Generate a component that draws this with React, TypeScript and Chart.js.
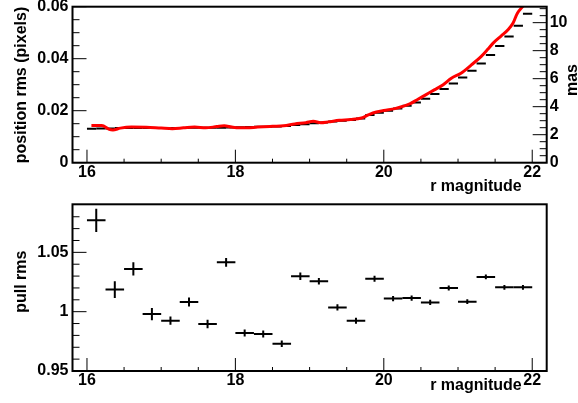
import React, { useEffect, useRef } from "react";
import { Chart, registerables } from "chart.js";

Chart.register(...registerables);

// ---------------- data ----------------
const binCenters = [
  16.0625, 16.1875, 16.3125, 16.4375, 16.5625, 16.6875, 16.8125, 16.9375,
  17.0625, 17.1875, 17.3125, 17.4375, 17.5625, 17.6875, 17.8125, 17.9375,
  18.0625, 18.1875, 18.3125, 18.4375, 18.5625, 18.6875, 18.8125, 18.9375,
  19.0625, 19.1875, 19.3125, 19.4375, 19.5625, 19.6875, 19.8125, 19.9375,
  20.0625, 20.1875, 20.3125, 20.4375, 20.5625, 20.6875, 20.8125, 20.9375,
  21.0625, 21.1875, 21.3125, 21.4375, 21.5625, 21.6875, 21.8125, 21.9375,
];
const rmsPixels = [
  0.0131, 0.0132, 0.0132, 0.0133, 0.0133, 0.0133, 0.0133, 0.0133,
  0.0133, 0.0133, 0.0133, 0.0134, 0.0134, 0.0134, 0.0134, 0.0135,
  0.0136, 0.0137, 0.0138, 0.0138, 0.0139, 0.0141, 0.0145, 0.0148,
  0.0152, 0.0155, 0.0158, 0.0161, 0.0164, 0.017, 0.0183, 0.0192,
  0.02, 0.0208, 0.0219, 0.0232, 0.0246, 0.0264, 0.0283, 0.0305,
  0.0328, 0.0354, 0.0382, 0.0414, 0.0449, 0.0485, 0.0527, 0.0573,
];
const binHalfWidth = 0.0625;

const curveX = [
  16.06, 16.2, 16.3, 16.35, 16.45, 16.6, 16.8, 17.0, 17.15, 17.3, 17.45, 17.6,
  17.75, 17.85, 17.95, 18.05, 18.15, 18.3, 18.5, 18.65, 18.8, 18.95, 19.05,
  19.15, 19.25, 19.4, 19.55, 19.7, 19.8, 19.9, 20.0, 20.15, 20.25, 20.35,
  20.46, 20.57, 20.68, 20.8, 20.91, 21.04, 21.18, 21.31, 21.4, 21.47, 21.58,
  21.67, 21.74, 21.8, 21.87, 21.93,
];
const curveY = [
  0.0143, 0.0143, 0.0128, 0.0126, 0.0133, 0.0137, 0.0136, 0.0133, 0.0131,
  0.0134, 0.0137, 0.0134, 0.0139, 0.0142, 0.0137, 0.0134, 0.0134, 0.0137,
  0.014, 0.0142, 0.0149, 0.0154, 0.0159, 0.0154, 0.0157, 0.0163, 0.0166,
  0.0172, 0.0185, 0.0195, 0.0201, 0.0208, 0.0216, 0.0226, 0.0244, 0.0262,
  0.028, 0.03, 0.0325, 0.0344, 0.0376, 0.0408, 0.0436, 0.0459, 0.0487, 0.051,
  0.0536, 0.0575, 0.06, 0.0625,
];

const pullX = [
  16.125, 16.375, 16.625, 16.875, 17.125, 17.375, 17.625, 17.875,
  18.125, 18.375, 18.625, 18.875, 19.125, 19.375, 19.625, 19.875,
  20.125, 20.375, 20.625, 20.875, 21.125, 21.375, 21.625, 21.875,
];
const pullY = [
  1.077, 1.0186, 1.036, 0.998, 0.9924, 1.0082, 0.9896, 1.0416,
  0.982, 0.9812, 0.973, 1.0298, 1.0256, 1.0036, 0.9924, 1.0278,
  1.011, 1.0115, 1.0078, 1.02, 1.0084, 1.0293, 1.0205, 1.0205,
];
const pullYErr = [
  0.0098, 0.007, 0.0056, 0.0052, 0.0035, 0.0038, 0.0035, 0.0037,
  0.003, 0.003, 0.0028, 0.0032, 0.0028, 0.0026, 0.0025, 0.0025,
  0.0022, 0.0022, 0.0022, 0.0021, 0.002, 0.002, 0.002, 0.002,
];
const pullXErr = 0.125;

const xMajorTicks = [16, 18, 20, 22];
const xMinorTicks = [16.5, 17, 17.5, 18.5, 19, 19.5, 20.5, 21, 21.5];
const yTopMajorTicks = [0, 0.02, 0.04, 0.06];
const yTopMinorTicks = [0.005, 0.01, 0.015, 0.025, 0.03, 0.035, 0.045, 0.05, 0.055];
const masMajorTicks = [0, 2, 4, 6, 8, 10];
const masMinorTicks = [0.5, 1, 1.5, 2.5, 3, 3.5, 4.5, 5, 5.5, 6.5, 7, 7.5, 8.5, 9, 9.5, 10.5, 11];
const pullMajorTicks = [0.95, 1, 1.05];
const pullMinorTicks = [0.96, 0.97, 0.98, 0.99, 1.01, 1.02, 1.03, 1.04, 1.06, 1.07, 1.08];

const xRange = [15.805, 22.195];
const yTopRange = [0, 0.06];
const masRange = [0, 11.14];
const pullRange = [0.95, 1.0905];

const xTitle = "r magnitude";
const yTopTitle = "position rms (pixels)";
const masTitle = "mas";
const pullTitle = "pull rms";

// ---------------- styling helpers ----------------
const FAMILY = '"Liberation Sans", Arial, Helvetica, sans-serif';
const tickFont = { family: FAMILY, size: 16, weight: "bold" as const };

function fixAxis(size: number, horizontal: boolean) {
  return (s: any) => {
    if (horizontal) s.height = size;
    else s.width = size;
    s.paddingTop = 0;
    s.paddingBottom = 0;
    s.paddingLeft = 0;
    s.paddingRight = 0;
  };
}

function setTicks(values: number[]) {
  return (s: any) => {
    s.ticks = values.map((v) => ({ value: v }));
  };
}

function drawFrame(ctx: CanvasRenderingContext2D, a: any) {
  ctx.save();
  ctx.strokeStyle = "#000";
  ctx.lineWidth = 2;
  ctx.strokeRect(a.left, a.top, a.right - a.left, a.bottom - a.top);
  ctx.restore();
}

function drawXTicks(ctx: CanvasRenderingContext2D, xs: any, a: any) {
  ctx.save();
  ctx.strokeStyle = "#000";
  ctx.lineWidth = 1;
  ctx.beginPath();
  xMajorTicks.forEach((v) => {
    const p = xs.getPixelForValue(v);
    ctx.moveTo(p, a.bottom);
    ctx.lineTo(p, a.bottom - 13);
  });
  xMinorTicks.forEach((v) => {
    const p = xs.getPixelForValue(v);
    ctx.moveTo(p, a.bottom);
    ctx.lineTo(p, a.bottom - 4);
  });
  ctx.stroke();
  ctx.restore();
}

function drawYTicks(
  ctx: CanvasRenderingContext2D,
  ys: any,
  edge: number,
  dir: number,
  majors: number[],
  minors: number[]
) {
  ctx.save();
  ctx.strokeStyle = "#000";
  ctx.lineWidth = 1;
  ctx.beginPath();
  majors.forEach((v) => {
    const p = ys.getPixelForValue(v);
    ctx.moveTo(edge, p);
    ctx.lineTo(edge + dir * 14, p);
  });
  minors.forEach((v) => {
    const p = ys.getPixelForValue(v);
    ctx.moveTo(edge, p);
    ctx.lineTo(edge + dir * 7, p);
  });
  ctx.stroke();
  ctx.restore();
}

function rotatedText(ctx: CanvasRenderingContext2D, text: string, x: number, y: number) {
  ctx.save();
  ctx.translate(x, y);
  ctx.rotate(-Math.PI / 2);
  ctx.font = `bold 16px ${FAMILY}`;
  ctx.fillStyle = "#000";
  ctx.textAlign = "center";
  ctx.textBaseline = "alphabetic";
  ctx.fillText(text, 0, 0);
  ctx.restore();
}

function rightText(ctx: CanvasRenderingContext2D, text: string, x: number, y: number) {
  ctx.save();
  ctx.font = `bold 16px ${FAMILY}`;
  ctx.fillStyle = "#000";
  ctx.textAlign = "right";
  ctx.textBaseline = "alphabetic";
  ctx.fillText(text, x, y);
  ctx.restore();
}

// ---------------- plugins ----------------
const topPlugin = {
  id: "topDecor",
  beforeDatasetsDraw(chart: any) {
    const { ctx, chartArea: a, scales } = chart;
    const xs = scales.x;
    const ys = scales.y;
    const pts = chart.data.datasets[0].data as { x: number; y: number }[];
    ctx.save();
    ctx.beginPath();
    ctx.rect(a.left, a.top, a.right - a.left, a.bottom - a.top);
    ctx.clip();
    ctx.strokeStyle = "#000";
    ctx.lineWidth = 2;
    pts.forEach((p) => {
      const py = ys.getPixelForValue(p.y);
      ctx.beginPath();
      ctx.moveTo(xs.getPixelForValue(p.x - binHalfWidth), py);
      ctx.lineTo(xs.getPixelForValue(p.x + binHalfWidth), py);
      ctx.stroke();
    });
    ctx.restore();
  },
  afterDatasetsDraw(chart: any) {
    const { ctx, chartArea: a, scales } = chart;
    drawXTicks(ctx, scales.x, a);
    drawYTicks(ctx, scales.y, a.left, 1, yTopMajorTicks, yTopMinorTicks);
    drawYTicks(ctx, scales.y2, a.right, -1, masMajorTicks, masMinorTicks);
    drawFrame(ctx, a);
  },
  afterDraw(chart: any) {
    const { ctx } = chart;
    rotatedText(ctx, yTopTitle, 26, 85);
    rotatedText(ctx, masTitle, 577, 80);
    rightText(ctx, xTitle, 521.7, 191);
  },
};

const botPlugin = {
  id: "botDecor",
  afterDatasetsDraw(chart: any) {
    const { ctx, chartArea: a, scales } = chart;
    const xs = scales.x;
    const ys = scales.y;
    const pts = chart.data.datasets[0].data as { x: number; y: number; e: number }[];
    ctx.save();
    ctx.strokeStyle = "#000";
    ctx.lineWidth = 2;
    pts.forEach((p) => {
      const px = xs.getPixelForValue(p.x);
      const py = ys.getPixelForValue(p.y);
      ctx.beginPath();
      ctx.moveTo(xs.getPixelForValue(p.x - pullXErr), py);
      ctx.lineTo(xs.getPixelForValue(p.x + pullXErr), py);
      ctx.moveTo(px, ys.getPixelForValue(p.y - p.e));
      ctx.lineTo(px, ys.getPixelForValue(p.y + p.e));
      ctx.stroke();
    });
    ctx.restore();
    drawXTicks(ctx, xs, a);
    drawYTicks(ctx, ys, a.left, 1, pullMajorTicks, pullMinorTicks);
    drawFrame(ctx, a);
  },
  afterDraw(chart: any) {
    const { ctx } = chart;
    rotatedText(ctx, pullTitle, 26, 81.7);
    rightText(ctx, xTitle, 521.7, 190);
  },
};

// ---------------- configs ----------------
function xScale(height: number) {
  return {
    type: "linear" as const,
    position: "bottom" as const,
    min: xRange[0],
    max: xRange[1],
    grid: { display: false, drawTicks: false },
    border: { display: false },
    ticks: {
      font: tickFont,
      color: "#000",
      padding: 0,
      autoSkip: false,
      maxRotation: 0,
      callback: (v: any) => String(v),
    },
    afterBuildTicks: setTicks(xMajorTicks),
    afterFit: fixAxis(height, true),
  };
}

function topConfig(): any {
  return {
    type: "scatter",
    data: {
      datasets: [
        {
          type: "scatter",
          label: "rms",
          data: binCenters.map((x, i) => ({ x, y: rmsPixels[i] })),
          pointRadius: 0,
          yAxisID: "y",
        },
        {
          type: "line",
          label: "model",
          data: curveX.map((x, i) => ({ x, y: curveY[i] })),
          borderColor: "#ff0000",
          borderWidth: 3,
          pointRadius: 0,
          fill: false,
          cubicInterpolationMode: "monotone",
          clip: 0,
          yAxisID: "y",
        },
      ],
    },
    options: {
      animation: false,
      responsive: false,
      devicePixelRatio: 1,
      layout: { padding: { top: 6.7, left: 0, right: 0, bottom: 0 } },
      plugins: { legend: { display: false }, tooltip: { enabled: false } },
      scales: {
        x: xScale(37.3),
        y: {
          type: "linear",
          position: "left",
          min: yTopRange[0],
          max: yTopRange[1],
          grid: { display: false, drawTicks: false },
          border: { display: false },
          ticks: { font: tickFont, color: "#000", padding: 4, callback: (v: any) => String(v) },
          afterBuildTicks: setTicks(yTopMajorTicks),
          afterFit: fixAxis(72.5, false),
        },
        y2: {
          type: "linear",
          position: "right",
          display: true,
          min: masRange[0],
          max: masRange[1],
          grid: { display: false, drawTicks: false },
          border: { display: false },
          ticks: { font: tickFont, color: "#000", padding: 3, callback: (v: any) => String(v) },
          afterBuildTicks: setTicks(masMajorTicks),
          afterFit: fixAxis(31.3, false),
        },
      },
    },
    plugins: [topPlugin],
  };
}

function botConfig(): any {
  return {
    type: "scatter",
    data: {
      datasets: [
        {
          type: "scatter",
          label: "pull rms",
          data: pullX.map((x, i) => ({ x, y: pullY[i], e: pullYErr[i] })),
          pointRadius: 0,
        },
      ],
    },
    options: {
      animation: false,
      responsive: false,
      devicePixelRatio: 1,
      layout: { padding: { top: 4.3, left: 0, right: 31.3, bottom: 0 } },
      plugins: { legend: { display: false }, tooltip: { enabled: false } },
      scales: {
        x: xScale(32),
        y: {
          type: "linear",
          position: "left",
          min: pullRange[0],
          max: pullRange[1],
          grid: { display: false, drawTicks: false },
          border: { display: false },
          ticks: { font: tickFont, color: "#000", padding: 4, callback: (v: any) => String(v) },
          afterBuildTicks: setTicks(pullMajorTicks),
          afterFit: fixAxis(72.5, false),
        },
      },
    },
    plugins: [botPlugin],
  };
}

export default function App() {
  const topRef = useRef<HTMLCanvasElement>(null);
  const botRef = useRef<HTMLCanvasElement>(null);
  useEffect(() => {
    const c1 = new Chart(topRef.current!, topConfig());
    const c2 = new Chart(botRef.current!, botConfig());
    return () => {
      c1.destroy();
      c2.destroy();
    };
  }, []);
  return (
    <div style={{ position: "fixed", left: 0, top: 0, width: 578, height: 403, background: "#fff" }}>
      <canvas
        ref={topRef}
        width={578}
        height={200}
        style={{ position: "absolute", left: 0, top: 0, width: 578, height: 200, display: "block" }}
      />
      <canvas
        ref={botRef}
        width={578}
        height={203}
        style={{ position: "absolute", left: 0, top: 200, width: 578, height: 203, display: "block" }}
      />
    </div>
  );
}
